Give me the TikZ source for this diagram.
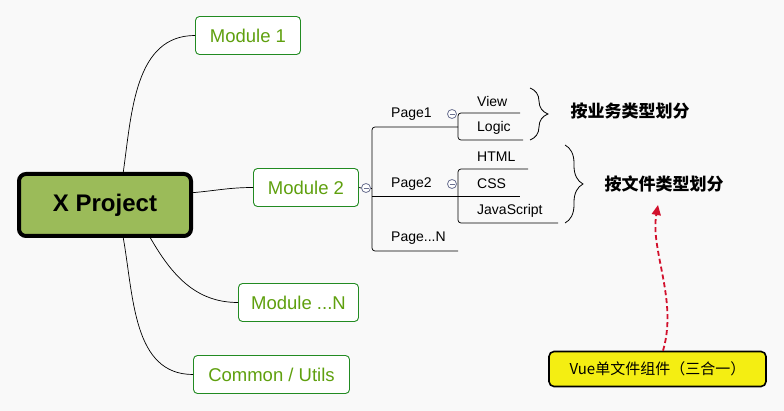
\documentclass[tikz,border=0pt]{standalone}
\usepackage{fontspec}
\setmainfont{Liberation Sans}
\newfontfamily\cjk{Noto Sans CJK SC}
\usepackage{xcolor}
\usepackage{tikz}
\usetikzlibrary{positioning}
\usetikzlibrary{arrows.meta}
\usetikzlibrary{decorations.pathreplacing}

\definecolor{bggray}{HTML}{F9F9F9}
\definecolor{projgreen}{HTML}{9BBB59}
\definecolor{modline}{HTML}{228B22}
\definecolor{modtext}{HTML}{5FA00E}
\definecolor{noteyellow}{HTML}{F4EE12}
\definecolor{tipred}{HTML}{D2102C}
\definecolor{knobgray}{HTML}{6A7090}

\tikzset{
  project/.style={draw, line width=4pt, fill=projgreen, rounded corners=7pt,
    minimum width=172pt, minimum height=62pt, inner sep=0pt,
    font=\fontsize{24}{24}\selectfont\bfseries},
  module/.style={draw=modline, line width=0.9pt, fill=white, rounded corners=4pt,
    minimum height=38pt, inner sep=0pt, text=modtext,
    font=\fontsize{18.5}{18.5}\selectfont},
  leaf/.style={anchor=west, inner sep=0pt, font=\fontsize{14}{14}\selectfont},
  knob/.style={circle, draw=knobgray, line width=0.8pt, fill=white, inner sep=0pt,
    minimum size=9pt,
    path picture={\draw[knobgray, line width=0.7pt]
      ([xshift=-2.5pt]path picture bounding box.center)
      -- ([xshift=2.5pt]path picture bounding box.center);}},
  link/.style={line width=0.7pt},
  curly/.style={decorate, decoration={brace, amplitude=18pt}, line width=0.8pt},
  tag/.style={font=\cjk\bfseries\fontsize{17}{17}\selectfont},
  note/.style={draw, line width=1.6pt, fill=noteyellow, rounded corners=5pt,
    minimum width=217pt, minimum height=35pt,
    font=\cjk\fontsize{15}{15}\selectfont},
}

\begin{document}
\begin{tikzpicture}[x=1pt,y=-1pt]
\fill[bggray] (0,0) rectangle (784,411);
\useasboundingbox (0,0) rectangle (784,411);
% main node
\node[project] (proj) at (105,205) {X Project};
% modules
\node[module, minimum width=105pt] (mod1) at (248,35.5) {Module 1};
\node[module, minimum width=105pt] (mod2) at (306,187.5) {Module 2};
\node[module, minimum width=120pt] (modn) at (298.5,302.5) {Module ...N};
\node[module, minimum width=156pt] (common) at (271.5,374.5) {Common / Utils};
% branches from project
\draw[link] (proj.61) to[out=82,in=180] (mod1.west);
\draw[link] (proj.8) to[out=5,in=180] (mod2.west);
\draw[link] (proj.-36) to[out=-60,in=180] (modn.west);
\draw[link] (proj.-61) to[out=-80,in=180] (common.west);
% pages
\node[knob] (k0) at (366,188) {};
\coordinate (trunk) at (372,188);
\coordinate (p1e) at (458,127);
\coordinate (p2e) at (458,196);
\coordinate (pne) at (458,251);
\node[leaf] (page1) at (391,114) {Page1};
\node[leaf] (page2) at (391,184) {Page2};
\node[leaf] (pagen) at (391,238) {Page...N};
\draw[link] (mod2.east) -- (k0.west);
\draw[link] (k0.east) -- (trunk);
\draw[link, rounded corners=3pt] (p1e) -| (trunk) |- (pne);
\draw[link] (trunk |- p2e) -- (p2e);
% page1 children
\node[knob] (k1) at (452,114) {};
\coordinate (viewe) at (520,113);
\coordinate (logice) at (523,140);
\node[leaf] (view) at (477,101) {View};
\node[leaf] (logic) at (477,128) {Logic};
\draw[link, rounded corners=3pt] (viewe) -| (p1e) |- (logice);
% page2 children
\node[knob] (k2) at (452,184) {};
\coordinate (htmle) at (528,169);
\coordinate (csse) at (520,196);
\coordinate (jse) at (558,223);
\node[leaf] (html) at (477,157) {HTML};
\node[leaf] (css) at (477,184) {CSS};
\node[leaf] (js) at (477,211) {JavaScript};
\draw[link, rounded corners=3pt] (htmle) -| (p2e) |- (jse);
\draw[link] (p2e) -- (csse);
% braces
\draw[curly] (530,88) -- (530,140);
\draw[curly] (565,145) -- (565,223);
\node[tag] (bybiz) at (630,111) {按业务类型划分};
\node[tag] (byfile) at (664,184) {按文件类型划分};
% note
\node[note] (vue) at (657.5,369) {Vue单文件组件（三合一）};
\coordinate (arrtip) at (658,205);
\draw[tipred, line width=1.8pt, dash pattern=on 5pt off 3pt,
  -{Triangle[length=10pt,width=9pt]}]
  ([xshift=5.5pt]vue.north) .. controls (678,300) and (650,250) .. (arrtip);
\end{tikzpicture}
\end{document}
